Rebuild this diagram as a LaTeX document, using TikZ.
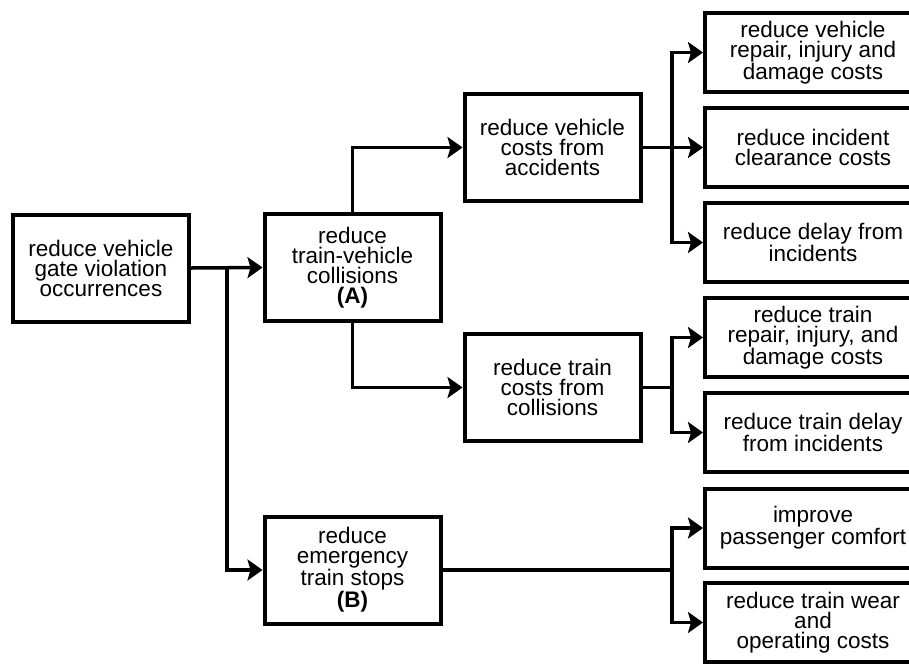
\documentclass[tikz,border=0pt]{standalone}
\usepackage{fontspec}
\setmainfont{Liberation Sans}
\usetikzlibrary{arrows.meta}
\begin{document}
\begin{tikzpicture}[x=1pt,y=-1pt,
  box/.style={draw, line width=4pt, align=center, inner sep=0pt,
    font=\fontsize{22.5}{20}\selectfont},
  leftbox/.style={box, minimum width=176pt, minimum height=107pt},
  rightbox/.style={box, minimum width=216pt, minimum height=79pt},
  link/.style={line width=3.5pt},
  arr/.style={link, -{Stealth[length=15pt,width=21pt,inset=3pt]}}]
\useasboundingbox (0,0) rectangle (909,665);
\clip (0,0) rectangle (909,665);

% left and middle columns
\node[leftbox] (gate) at (101,268) {reduce vehicle\\gate violation\\occurrences};
\node[leftbox] (coll) at (352.5,267.5) {reduce\\train-vehicle\\collisions\\\textbf{(A)}};
\node[leftbox] (stops) at (352.5,570) {reduce\\emergency\\train stops\\\textbf{(B)}};
\node[leftbox] (vcost) at (552.5,147.5) {reduce vehicle\\costs from\\accidents};
\node[leftbox] (tcost) at (552.5,387.5) {reduce train\\costs from\\collisions};

% right column
\node[rightbox] (r1) at (813,52.5) {reduce vehicle\\repair, injury and\\damage costs};
\node[rightbox] (r2) at (813,147.5) {reduce incident\\clearance costs};
\node[rightbox] (r3) at (813,242.5) {reduce delay from\\incidents};
\node[rightbox] (r4) at (813,337.5) {reduce train\\repair, injury, and\\damage costs};
\node[rightbox] (r5) at (813,432.5) {reduce train delay\\from incidents};
\node[rightbox] (r6) at (813,528) {improve\\passenger comfort};
\node[rightbox] (r7) at (813,622.5) {reduce train wear\\and\\operating costs};

% branch points
\coordinate (j0) at (227,268);
\coordinate (j1) at (672,147.5);
\coordinate (j2) at (672,387.5);
\coordinate (j3) at (672,570);

% connectors
\draw[arr] (gate.east) -- (coll.west);
\draw[arr] (j0) |- (stops.west);
\draw[arr] (coll.north) |- (vcost.west);
\draw[arr] (coll.south) |- (tcost.west);

\draw[arr] (vcost.east) -- (r2.west);
\draw[arr] (j1) |- (r1.west);
\draw[arr] (j1) |- (r3.west);

\draw[link] (tcost.east) -- (j2);
\draw[arr] (j2) |- (r4.west);
\draw[arr] (j2) |- (r5.west);

\draw[link] (stops.east) -- (j3);
\draw[arr] (j3) |- (r6.west);
\draw[arr] (j3) |- (r7.west);
\end{tikzpicture}
\end{document}
